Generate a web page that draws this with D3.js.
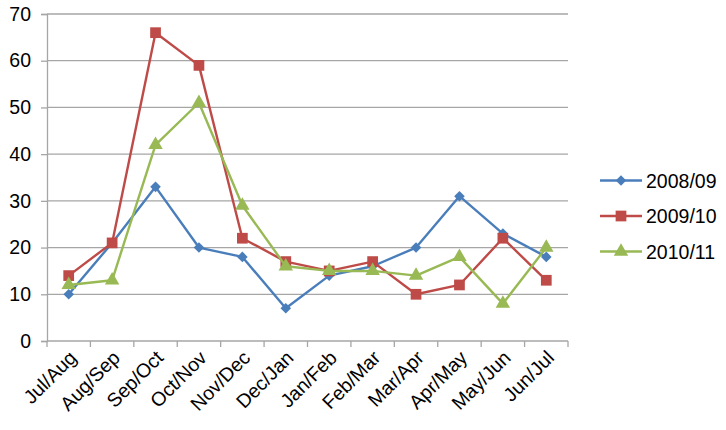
<!DOCTYPE html>
<html><head><meta charset="utf-8">
<script src="https://cdn.jsdelivr.net/npm/d3@7"></script>
<style>body{margin:0;background:#fff}svg{display:block}text{font-family:"Liberation Sans",Arial,sans-serif}</style>
</head><body>
<script>
const categories = ["Jul/Aug","Aug/Sep","Sep/Oct","Oct/Nov","Nov/Dec","Dec/Jan","Jan/Feb","Feb/Mar","Mar/Apr","Apr/May","May/Jun","Jun/Jul"];
const s2008 = [10,21,33,20,18,7,14,16,20,31,23,18];
const s2009 = [14,21,66,59,22,17,15,17,10,12,22,13];
const s2010 = [12,13,42,51,29,16,15,15,14,18,8,20];
const seriesNames = ["2008/09","2009/10","2010/11"];
const yTicks = [0,10,20,30,40,50,60,70];

const series = [
  {name: seriesNames[0], values: s2008, color: "#4A7EBB", marker: "diamond"},
  {name: seriesNames[1], values: s2009, color: "#BE4B48", marker: "square"},
  {name: seriesNames[2], values: s2010, color: "#98B954", marker: "triangle"}
];

const W = 726, H = 430;
const m = {left: 47, right: 158, top: 14, bottom: 89};
const FS = 19.5;
const svg = d3.select("body").append("svg").attr("width", W).attr("height", H);

const x = d3.scaleBand().domain(categories).range([m.left, W - m.right]);
const y = d3.scaleLinear().domain([0, 70]).range([H - m.bottom, m.top]);

// gridlines
svg.append("g").selectAll("line").data(yTicks.filter(d => d > 0)).join("line")
  .attr("x1", m.left).attr("x2", W - m.right)
  .attr("y1", d => y(d)).attr("y2", d => y(d))
  .attr("stroke", "#A6A6A6").attr("stroke-width", 1.3);

// y axis
const yAxis = svg.append("g").attr("transform", `translate(${m.left},0)`)
  .call(d3.axisLeft(y).tickValues(yTicks).tickSize(6).tickPadding(10));
yAxis.select(".domain").attr("stroke", "#A6A6A6").attr("stroke-width", 1.3);
yAxis.selectAll(".tick line").attr("stroke", "#A6A6A6").attr("stroke-width", 1.3);
yAxis.selectAll("text").attr("font-size", FS).attr("fill", "#000").attr("font-family", "Liberation Sans, Arial, sans-serif");

// x axis
const xAxisG = svg.append("g").attr("transform", `translate(0,${H - m.bottom})`);
xAxisG.append("line").attr("x1", m.left).attr("x2", W - m.right).attr("stroke", "#A6A6A6").attr("stroke-width", 1.3);
const bounds = categories.map(c => x(c)).concat([W - m.right]);
xAxisG.selectAll("line.tk").data(bounds).join("line").attr("class", "tk")
  .attr("x1", d => d).attr("x2", d => d).attr("y1", 0).attr("y2", 6)
  .attr("stroke", "#A6A6A6").attr("stroke-width", 1.3);
xAxisG.selectAll("text").data(categories).join("text")
  .attr("transform", d => `translate(${x(d) + x.bandwidth() / 2 + 9},${18}) rotate(-45)`)
  .attr("text-anchor", "end").attr("font-size", FS).attr("fill", "#000")
  .text(d => d);

const line = d3.line().x((d, i) => x(categories[i]) + x.bandwidth() / 2).y(d => y(d));

function markerD(type) {
  if (type === "diamond") return d3.symbol().type(d3.symbolSquare).size(56)();
  if (type === "square") return d3.symbol().type(d3.symbolSquare).size(115)();
  return d3.symbol().type(d3.symbolTriangle).size(90)();
}
function markerT(type) { return type === "diamond" ? " rotate(45)" : ""; }

series.forEach(s => {
  const g = svg.append("g");
  g.append("path").datum(s.values).attr("d", line).attr("fill", "none")
    .attr("stroke", s.color).attr("stroke-width", 2.4).attr("stroke-linejoin", "round");
  g.selectAll("path.mk").data(s.values).join("path").attr("class", "mk")
    .attr("transform", (d, i) => `translate(${x(categories[i]) + x.bandwidth() / 2},${y(d)})${markerT(s.marker)}`)
    .attr("d", markerD(s.marker))
    .attr("fill", s.color);
});

// legend
const lg = svg.append("g");
const legY = [180.5, 216, 251.5];
series.forEach((s, i) => {
  const yy = legY[i];
  lg.append("line").attr("x1", 600).attr("x2", 642).attr("y1", yy).attr("y2", yy)
    .attr("stroke", s.color).attr("stroke-width", 2.4);
  lg.append("path").attr("transform", `translate(621,${yy})${markerT(s.marker)}`)
    .attr("d", markerD(s.marker))
    .attr("fill", s.color);
  lg.append("text").attr("x", 646).attr("y", yy).attr("dy", "0.36em")
    .attr("font-size", FS).attr("fill", "#000").text(s.name);
});
</script>
</body></html>
